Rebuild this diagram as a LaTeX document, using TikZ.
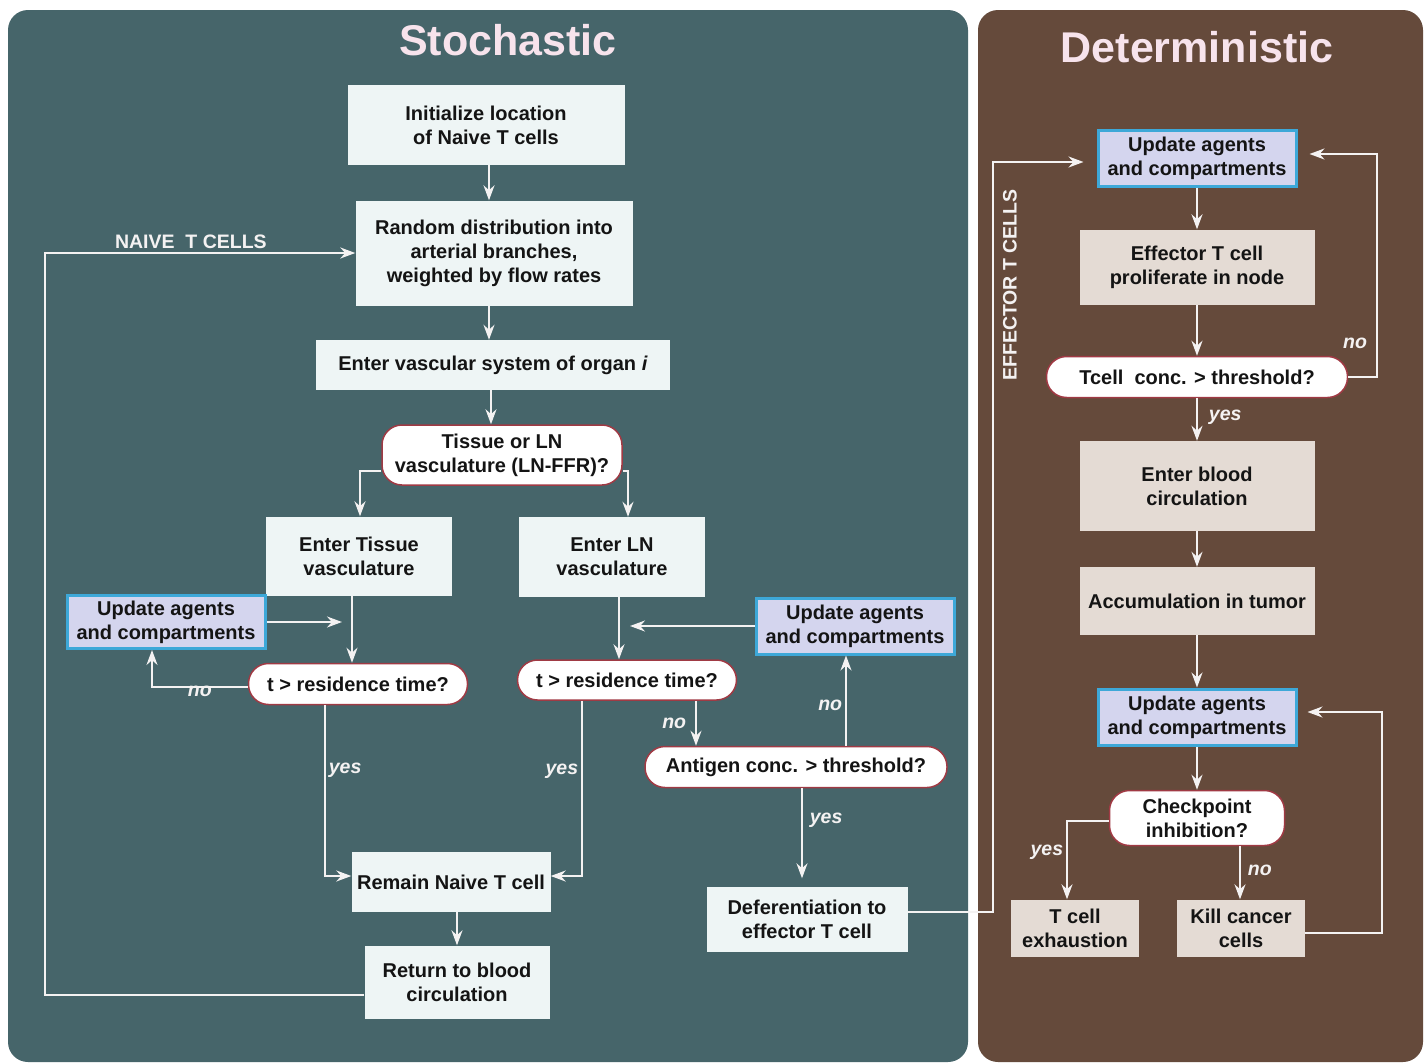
\documentclass[tikz,border=0pt]{standalone}
\usepackage{fontspec}
\setmainfont{Liberation Sans}
\usetikzlibrary{arrows.meta,calc}
\definecolor{stobg}{HTML}{46656A}
\definecolor{detbg}{HTML}{654A3B}
\definecolor{titlec}{HTML}{F7E3EC}
\definecolor{lightbox}{HTML}{EEF5F5}
\definecolor{beigebox}{HTML}{E4DBD4}
\definecolor{updfill}{HTML}{D4D5EE}
\definecolor{updline}{HTML}{3DA8D8}
\definecolor{decline}{HTML}{A03A44}
\definecolor{linec}{HTML}{F4F2F2}
\begin{document}
\begin{tikzpicture}[x=1pt,y=-1pt,
  txt/.style={font=\bfseries\fontsize{20}{24}\selectfont, align=center, text=black!92, inner sep=0pt},
  sbox/.style={txt, rectangle, fill=lightbox},
  dbox/.style={txt, rectangle, fill=beigebox},
  upd/.style={txt, rectangle, fill=updfill, draw=updline, line width=3pt, minimum width=198pt, minimum height=56pt},
  dec/.style={txt, rectangle, rounded corners=20pt, fill=white, draw=decline, line width=1.5pt},
  arr/.style={draw=linec, line width=1.8pt, -{Stealth[length=15pt,width=11pt]}},
  conn/.style={draw=linec, line width=1.8pt},
  lbl/.style={font=\bfseries\itshape\fontsize{19.5}{22}\selectfont, text=linec, inner sep=3pt},
  caplbl/.style={font=\bfseries\fontsize{19.5}{22}\selectfont, text=linec, inner sep=2pt},
  ttl/.style={font=\bfseries\fontsize{43}{50}\selectfont, text=titlec},
]
\fill[white] (0,0) rectangle (1428,1063);
\useasboundingbox (0,0) rectangle (1428,1063);
\fill[stobg, rounded corners=20pt] (8,10) rectangle (968,1062);
\fill[detbg, rounded corners=20pt] (978,10) rectangle (1423,1062);

\node[ttl] (tsto) at (508,40) {Stochastic};
\node[ttl] (tdet) at (1197,47) {Deterministic};

% Stochastic nodes
\node[sbox, minimum width=277pt, minimum height=80pt] (init) at (486,125) {Initialize location\\of Naive T cells};
\node[sbox, minimum width=277pt, minimum height=105pt] (rand) at (494,253) {Random distribution into\\arterial branches,\\weighted by flow rates};
\node[sbox, minimum width=354pt, minimum height=50pt] (vasc) at (493,365) {Enter vascular system of organ \textit{i}};
\node[dec, minimum width=240pt, minimum height=60pt] (tlq) at (502,455) {Tissue or LN\\vasculature (LN-FFR)?};
\node[sbox, minimum width=186pt, minimum height=79pt] (tissue) at (359,556) {Enter Tissue\\vasculature};
\node[sbox, minimum width=186pt, minimum height=80pt] (ln) at (612,557) {Enter LN\\vasculature};
\node[upd, minimum width=198pt, minimum height=53pt] (upd1) at (166,622) {Update agents\\and compartments};
\node[dec, minimum width=219pt, minimum height=41pt] (rt1) at (358,684) {t > residence time?};
\node[upd] (upd2) at (855,626) {Update agents\\and compartments};
\node[dec, minimum width=219pt, minimum height=40pt] (rt2) at (627,680) {t > residence time?};
\node[dec, minimum width=302pt, minimum height=41pt] (ag) at (796,767) {Antigen conc. > threshold?};
\node[sbox, minimum width=199pt, minimum height=60pt] (remain) at (451,882) {Remain Naive T cell};
\node[sbox, minimum width=185pt, minimum height=73pt] (ret) at (457,982) {Return to blood\\circulation};
\node[sbox, minimum width=201pt, minimum height=65pt] (def) at (807,919) {Deferentiation to\\effector T cell};

% Deterministic nodes
\node[upd] (upd3) at (1197,158) {Update agents\\and compartments};
\node[dbox, minimum width=235pt, minimum height=75pt] (eff) at (1197,267) {Effector T cell\\proliferate in node};
\node[dec, minimum width=301pt, minimum height=41pt] (tc) at (1197,377) {Tcell\ \ conc. > threshold?};
\node[dbox, minimum width=235pt, minimum height=90pt] (blood) at (1197,486) {Enter blood\\circulation};
\node[dbox, minimum width=235pt, minimum height=68pt] (acc) at (1197,601) {Accumulation in tumor};
\node[upd] (upd4) at (1197,717) {Update agents\\and compartments};
\node[dec, minimum width=175pt, minimum height=55pt] (cp) at (1197,818) {Checkpoint\\inhibition?};
\node[dbox, minimum width=128pt, minimum height=57pt] (exh) at (1075,928) {T cell\\exhaustion};
\node[dbox, minimum width=128pt, minimum height=57pt] (kill) at (1241,928) {Kill cancer\\cells};

\coordinate (lc) at (45,0);
\coordinate (ec) at (993,0);
\coordinate (rc) at (1377,0);
\coordinate (kc) at (1382,0);

% Stochastic connectors
\draw[arr] ([xshift=3pt]init.south) -- ([xshift=3pt]init.south |- rand.north);
\draw[arr] ([xshift=-5pt]rand.south) -- ([xshift=-5pt]rand.south |- vasc.north);
\draw[arr] ([xshift=-2pt]vasc.south) -- ([xshift=-2pt]vasc.south |- tlq.north);
\draw[arr] ([yshift=-16pt]tlq.west) -| ([xshift=1pt]tissue.north);
\draw[arr] ([yshift=-16pt]tlq.east) -| ([xshift=16pt]ln.north);
\draw[arr] ([xshift=-7pt]tissue.south) -- ([xshift=-7pt]tissue.south |- rt1.north);
\draw[arr] (upd1.east) -- ([xshift=-17pt]tissue.south |- upd1.east);
\draw[arr] ([yshift=-3pt]rt1.west) -| ([xshift=-14pt]upd1.south) node[lbl, below, pos=0.25, yshift=5pt] {no};
\draw[arr] ([xshift=-33pt]rt1.south) |- ([yshift=6pt]remain.west) node[lbl, right, pos=0.19] {yes};
\draw[arr] ([xshift=7pt]ln.south) -- ([xshift=7pt]ln.south |- rt2.north);
\draw[arr] (upd2.west) -- ([xshift=18pt]ln.south |- upd2.west);
\draw[arr] ([xshift=-45pt]rt2.south) |- ([yshift=6pt]remain.east) node[lbl, left, pos=0.2] {yes};
\draw[arr] ([xshift=69pt]rt2.south) -- ([xshift=69pt]rt2.south |- ag.north) node[lbl, left, pos=0.5, xshift=-6pt] {no};
\draw[arr] ([xshift=50pt]ag.north) -- ([xshift=50pt]ag.north |- upd2.south) node[lbl, left, pos=0.45] {no};
\draw[arr, shorten >=8pt] ([xshift=6pt]ag.south) -- ([xshift=6pt]ag.south |- def.north) node[lbl, right, pos=0.33, xshift=4pt] {yes};
\draw[arr] ([xshift=6pt]remain.south) -- ([xshift=6pt]remain.south |- ret.north);
\draw[arr] ([yshift=-13pt]ret.west) -| (lc |- rand.west) -- (rand.west) node[caplbl, above, pos=0.47, yshift=1pt] {NAIVE\ \ T CELLS};

% Transfer to deterministic
\draw[arr, shorten >=13pt] ([yshift=7pt]def.east) -| ([yshift=-4pt]ec |- upd3.west) -- ([yshift=-4pt]upd3.west);
\node[caplbl, rotate=90] (efflbl) at (1010,285) {EFFECTOR T CELLS};

% Deterministic connectors
\draw[arr] (upd3.south) -- (upd3.south |- eff.north);
\draw[arr] (eff.south) -- (eff.south |- tc.north);
\draw[arr, shorten >=12pt] (tc.east) -| ([yshift=4pt]rc |- upd3.east) -- ([yshift=4pt]upd3.east);
\node[lbl] (nolbl3) at (1355,343) {no};
\draw[arr] (tc.south) -- (tc.south |- blood.north) node[lbl, right, pos=0.45, xshift=8pt] {yes};
\draw[arr] (blood.south) -- (blood.south |- acc.north);
\draw[arr] (acc.south) -- (acc.south |- upd4.north);
\draw[arr] (upd4.south) -- (upd4.south |- cp.north);
\draw[arr] ([yshift=-3pt]cp.west) -| ([xshift=-8pt]exh.north) node[lbl, left, pos=0.7] {yes};
\draw[arr] ([xshift=43pt]cp.south) -- ([xshift=43pt]cp.south |- kill.north) node[lbl, right, pos=0.45, xshift=4pt] {no};
\draw[arr, shorten >=10pt] ([yshift=-5pt]kill.east) -| ([yshift=5pt]kc |- upd4.east) -- ([yshift=5pt]upd4.east);
\end{tikzpicture}
\end{document}
